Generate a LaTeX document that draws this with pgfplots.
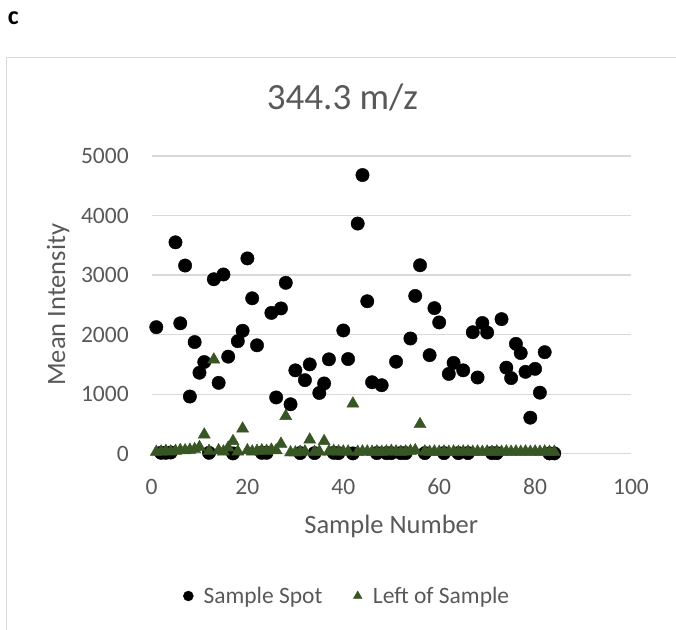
\documentclass[border=0pt]{standalone}
\usepackage{fontspec}
\setmainfont{Carlito}
\usepackage{pgfplots}
\pgfplotsset{compat=1.18}
\definecolor{txtgray}{HTML}{595959}
\definecolor{gridgray}{HTML}{D9D9D9}
\definecolor{dkgreen}{HTML}{375623}
\begin{document}
\begin{tikzpicture}[x=1pt,y=1pt]
\path[use as bounding box] (0,0) rectangle (676,629);
\draw[gridgray, line width=1.3pt] (6.7,571.5) rectangle (720,-40);
\node[anchor=base west, inner sep=0pt, font=\fontsize{26}{30}\selectfont\bfseries] at (7.8,604) {c};
\begin{axis}[
  at={(151.5pt,175.3pt)}, anchor=south west,
  scale only axis, width=479.5pt, height=297.7pt,
  xmin=0, xmax=100, ymin=0, ymax=5000,
  xtick={0,20,...,100}, ytick={0,1000,...,5000},
  axis line style={draw=none},
  major tick length=0pt,
  ymajorgrids, grid style={gridgray, line width=1.2pt},
  /pgf/number format/assume math mode=true,
  /pgf/number format/1000 sep={},
  scaled ticks=false,
  tick label style={font=\fontsize{23.5}{28}\selectfont, text=txtgray, inner sep=0pt},
  xticklabel style={anchor=north, yshift=-25pt},
  yticklabel style={anchor=east, xshift=-22.6pt},
  xlabel={Sample Number}, ylabel={Mean Intensity},
  label style={font=\fontsize{26.5}{32}\selectfont, text=txtgray, inner sep=0pt},
  xlabel style={at={(axis description cs:0.5,-0.2674)}, anchor=base},
  ylabel style={at={(axis description cs:-0.1802,0.5)}, anchor=base},
  title={344.3 m/z},
  title style={at={(axis description cs:0.3983,1.1377)}, anchor=base, font=\fontsize{37}{44}\selectfont, text=txtgray, inner sep=0pt},
  legend columns=2,
  legend style={at={(axis description cs:0.0656,-0.478)}, anchor=west, draw=none, fill=none,
    font=\fontsize{23.5}{28}\selectfont, text=txtgray, inner sep=0pt, column sep=0pt,
    nodes={inner sep=0pt},
    /tikz/every even column/.append style={column sep=30pt},
    /tikz/every odd column/.append style={column sep=10pt}},
  legend image code/.code={\path (-5pt,0pt) (5pt,0pt); \draw[#1, mark size=5pt] plot coordinates {(0pt,0pt)};},
]
\addplot[only marks, mark=*, mark size=6.7pt, color=black] coordinates {
(1,2125) (2,15) (3,15) (4,20) (5,3550) (6,2190) (7,3160) (8,960) (9,1875) (10,1360)
(11,1540) (12,15) (13,2930) (14,1190) (15,3010) (16,1630) (17,5) (18,1890) (19,2065) (20,3280)
(21,2610) (22,1820) (23,15) (24,15) (25,2365) (26,945) (27,2440) (28,2870) (29,830) (30,1400)
(31,10) (32,1235) (33,1500) (34,10) (35,1020) (36,1180) (37,1585) (38,15) (39,10) (40,2070)
(41,1590) (42,5) (43,3865) (44,4680) (45,2560) (46,1200) (47,10) (48,1150) (49,10) (50,10)
(51,1545) (52,10) (53,10) (54,1935) (55,2650) (56,3165) (57,10) (58,1655) (59,2445) (60,2205)
(61,10) (62,1340) (63,1525) (64,10) (65,1400) (66,10) (67,2040) (68,1280) (69,2195) (70,2035)
(71,10) (72,10) (73,2260) (74,1445) (75,1270) (76,1845) (77,1690) (78,1375) (79,605) (80,1425)
(81,1025) (82,1705) (83,5) (84,5)
};
\addlegendentry{Sample Spot}
\addplot[only marks, mark=triangle*, mark size=7pt, color=dkgreen] coordinates {
(1,30) (2,35) (3,45) (4,35) (5,45) (6,60) (7,55) (8,65) (9,75) (10,110)
(11,320) (12,45) (13,1580) (14,55) (15,35) (16,100) (17,210) (18,35) (19,420) (20,55)
(21,35) (22,45) (23,55) (24,45) (25,65) (26,55) (27,165) (28,630) (29,20) (30,20)
(31,30) (32,35) (33,235) (34,30) (35,35) (36,210) (37,35) (38,45) (39,35) (40,35)
(41,35) (42,840) (43,30) (44,35) (45,35) (46,30) (47,35) (48,30) (49,35) (50,45)
(51,35) (52,30) (53,35) (54,45) (55,55) (56,495) (57,35) (58,30) (59,35) (60,30)
(61,35) (62,30) (63,35) (64,30) (65,35) (66,35) (67,30) (68,35) (69,30) (70,35)
(71,30) (72,35) (73,30) (74,35) (75,30) (76,35) (77,30) (78,35) (79,30) (80,35)
(81,30) (82,35) (83,30) (84,30)
};
\addlegendentry{Left of Sample}
\end{axis}
\end{tikzpicture}
\end{document}
